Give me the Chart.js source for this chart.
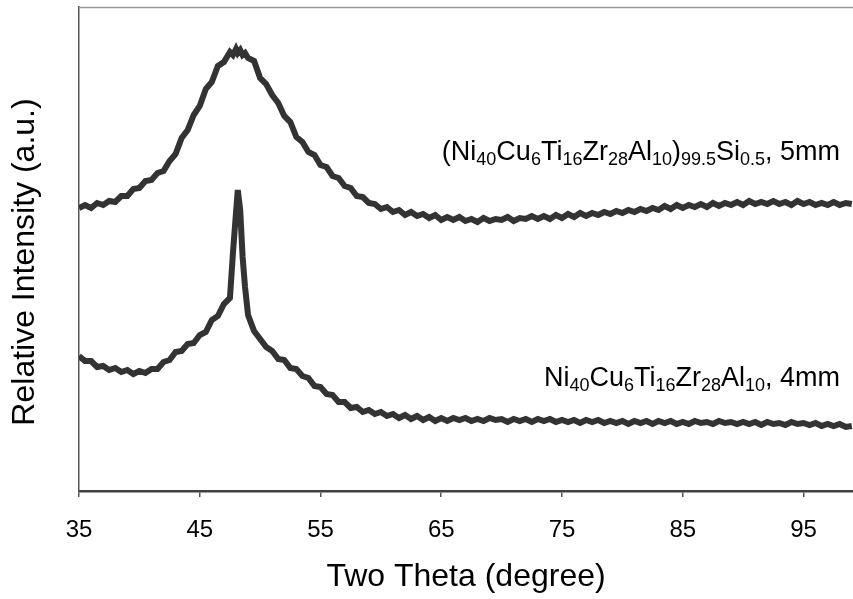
<!DOCTYPE html>
<html>
<head>
<meta charset="utf-8">
<script src="https://cdn.jsdelivr.net/npm/chart.js@4.4.1/dist/chart.umd.min.js"></script>
<style>
  html, body { margin: 0; padding: 0; background: #fff; }
  #wrap { width: 853px; height: 599px; }
</style>
</head>
<body>
<div id="wrap"><canvas id="xrd" width="853" height="599"></canvas></div>
<script>
// two theta positions (degree), shared by both patterns
const angles = [35,35.5,36,36.5,37,37.5,38,38.5,39,39.5,40,40.5,41,41.5,42,42.5,43,43.5,44,44.5,45,45.5,46,46.5,47,47.5,
  47.75,48,48.15,48.35,48.55,48.75,
  49,49.5,50,50.5,51,51.5,52,52.5,53,53.5,54,54.5,55,55.5,56,56.5,57,57.5,58,58.5,59,59.5,60,60.5,61,61.5,62,62.5,63,63.5,
  64,64.5,65,65.5,66,66.5,67,67.5,68,68.5,69,69.5,70,70.5,71,71.5,72,72.5,73,73.5,74,74.5,75,75.5,76,76.5,77,77.5,78,78.5,
  79,79.5,80,80.5,81,81.5,82,82.5,83,83.5,84,84.5,85,85.5,86,86.5,87,87.5,88,88.5,89,89.5,90,90.5,91,91.5,92,92.5,93,93.5,
  94,94.5,95,95.5,96,96.5,97,97.5,98,98.5,99];

// (Ni40Cu6Ti16Zr28Al10)99.5Si0.5, 5mm  (upper curve, offset intensity)
const si5mm = [283,286,283,288,286,290,289,295,295,302,303,310,311,318,320,330,337,353,361,376,385,402,409,425,429,439,
  436,442,438,441,436,438,
  433,430,413,407,396,388,375,369,354,349,339,336,326,324,315,313,305,303,295,294,288,287,282,284,279,281,276,279,275,277,
  273,276,271,274,271,274,270,272,269,273,270,272,271,274,270,273,272,275,272,275,272,276,273,277,274,278,275,278,276,279,
  277,280,278,281,279,282,280,283,281,285,282,286,283,286,284,287,284,288,285,288,286,289,286,290,287,289,287,290,287,289,
  286,290,287,289,286,288,286,289,286,288,287];

// Ni40Cu6Ti16Zr28Al10, 4mm  (lower curve)
const base4mm = [135,130,130,124,125,121,123,119,121,117,120,118,122,122,129,131,139,140,147,148,156,159,171,175,187,193,
  238,278,301,281,234,204,
  176,160,152,144,140,132,131,123,122,115,113,105,104,97,96,89,89,83,84,79,81,77,79,75,77,73,76,72,75,71,
  74,70,73,70,73,71,73,70,72,70,73,71,72,69,72,70,72,69,72,70,72,69,71,69,71,68,71,69,71,68,
  70,68,70,67,70,68,70,67,70,68,70,67,69,67,70,68,69,67,70,68,69,67,69,67,69,66,69,67,68,66,
  69,67,68,66,68,65,67,65,67,64,65];

const xTicks = [35,45,55,65,75,85,95];

if (si5mm.length !== angles.length || base4mm.length !== angles.length) {
  throw new Error('length mismatch ' + angles.length + ' ' + si5mm.length + ' ' + base4mm.length);
}

const FONT = '"Liberation Sans", Arial, sans-serif';
const LINE = '#333333';

// composition labels with subscripts: [text, isSub]
const labels = [
  { at: 331, parts: [['(Ni',0],['40',1],['Cu',0],['6',1],['Ti',0],['16',1],['Zr',0],['28',1],['Al',0],['10',1],[')',0],['99.5',1],['Si',0],['0.5',1],[', 5mm',0]] },
  { at: 105, parts: [['Ni',0],['40',1],['Cu',0],['6',1],['Ti',0],['16',1],['Zr',0],['28',1],['Al',0],['10',1],[', 4mm',0]] }
];

const extras = {
  id: 'extras',
  afterDraw(chart){
    const ctx = chart.ctx, a = chart.chartArea;
    ctx.save();
    // thin top frame line
    ctx.strokeStyle = '#9a9a9a';
    ctx.lineWidth = 1.5;
    ctx.beginPath();
    ctx.moveTo(a.left, a.top + 0.5);
    ctx.lineTo(a.right, a.top + 0.5);
    ctx.stroke();

    // y axis title, sits a bit below the plot centre like the original
    ctx.save();
    ctx.translate(25, 262);
    ctx.rotate(-Math.PI / 2);
    ctx.font = '32px ' + FONT;
    ctx.fillStyle = '#000';
    ctx.textAlign = 'center';
    ctx.textBaseline = 'middle';
    ctx.fillText('Relative Intensity (a.u.)', 0, 0);
    ctx.restore();

    const yS = chart.scales.y;
    const right = a.right - 13;
    ctx.fillStyle = '#000';
    ctx.textBaseline = 'alphabetic';
    ctx.textAlign = 'left';
    labels.forEach(l => {
      let w = 0;
      l.parts.forEach(p => {
        ctx.font = (p[1] ? '18px ' : '27px ') + FONT;
        w += ctx.measureText(p[0]).width;
      });
      let x = right - w;
      const y = yS.getPixelForValue(l.at);
      l.parts.forEach(p => {
        ctx.font = (p[1] ? '18px ' : '27px ') + FONT;
        ctx.fillText(p[0], x, p[1] ? y + 5 : y);
        x += ctx.measureText(p[0]).width;
      });
    });
    ctx.restore();
  }
};

function series(vals){ return angles.map((a, i) => ({ x: a, y: vals[i] })); }

new Chart(document.getElementById('xrd'), {
  type: 'line',
  data: {
    datasets: [
      { label: 'Si0.5 5mm', data: series(si5mm), borderColor: LINE, borderWidth: 6, pointRadius: 0, tension: 0, fill: false },
      { label: '4mm', data: series(base4mm), borderColor: LINE, borderWidth: 6, pointRadius: 0, tension: 0, fill: false }
    ]
  },
  options: {
    responsive: false,
    animation: false,
    layout: { padding: { top: 7, right: 0, left: 0, bottom: 0 } },
    plugins: { legend: { display: false }, tooltip: { enabled: false } },
    scales: {
      x: {
        type: 'linear', min: 35, max: 99.1,
        afterBuildTicks: s => { s.ticks = xTicks.map(v => ({ value: v })); },
        afterFit: s => { s.height = 108; },
        grid: { drawOnChartArea: false, tickLength: 6, color: '#555', lineWidth: 1.5 },
        border: { display: true, color: '#404040', width: 2.5 },
        ticks: { color: '#000', font: { family: FONT, size: 24 }, padding: 19, maxRotation: 0, autoSkip: false },
        title: { display: true, text: 'Two Theta (degree)', color: '#000', font: { family: FONT, size: 32 }, padding: { top: 0, bottom: 3 } }
      },
      y: {
        min: 0, max: 484,
        afterFit: s => { s.width = 79; },
        grid: { display: false },
        border: { display: true, color: '#555', width: 1.5 },
        ticks: { display: false },
        title: { display: false }
      }
    }
  },
  plugins: [extras]
});
</script>
</body>
</html>
